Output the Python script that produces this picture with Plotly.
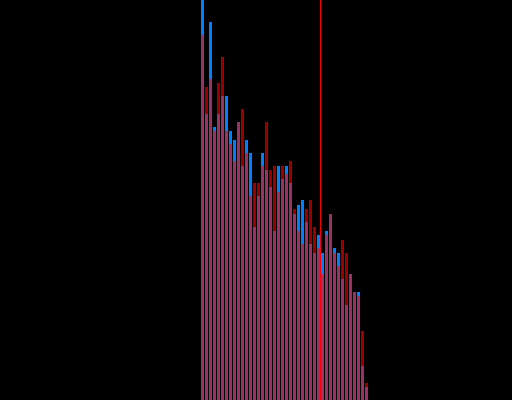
import plotly.graph_objects as go

bins = list(range(42))
blue_counts = [400, 286, 378, 273, 286, 304, 304, 269, 260, 278,
               234, 260, 247, 173, 204, 247, 230, 213, 169, 234,
               221, 234, 217, 186, 195, 200, 178, 156, 147, 165,
               147, 169, 186, 152, 147, 121, 95, 126, 108, 108,
               34, 13]
red_counts = [365, 313, 321, 269, 317, 343, 269, 256, 239, 278,
              291, 247, 204, 217, 217, 234, 278, 230, 234, 208,
              234, 226, 239, 191, 169, 156, 191, 200, 173, 152,
              126, 165, 186, 147, 134, 160, 147, 126, 108, 104,
              69, 17]
mean_marker = 29.5

fig = go.Figure()
fig.add_trace(go.Bar(x=bins, y=blue_counts, width=0.75,
                     marker=dict(color="#0080ff", line=dict(width=0))))
fig.add_trace(go.Bar(x=bins, y=red_counts, width=0.75, opacity=0.6,
                     marker=dict(color="#ff0000", line=dict(width=0))))
fig.add_vline(x=mean_marker, line_color="#ff0000", line_width=1)

fig.update_layout(
    width=512, height=400,
    margin=dict(l=0, r=0, t=0, b=0),
    paper_bgcolor="black", plot_bgcolor="black",
    barmode="overlay", showlegend=False,
    xaxis=dict(range=[-50.625, 77.375], visible=False, showgrid=False, zeroline=False),
    yaxis=dict(range=[0, 400], visible=False, showgrid=False, zeroline=False),
)
fig.write_html(
    "out.html",
    config={"displayModeBar": False},
    post_script="document.body.style.margin='0';document.body.style.overflow='hidden';document.body.style.background='black';",
)
